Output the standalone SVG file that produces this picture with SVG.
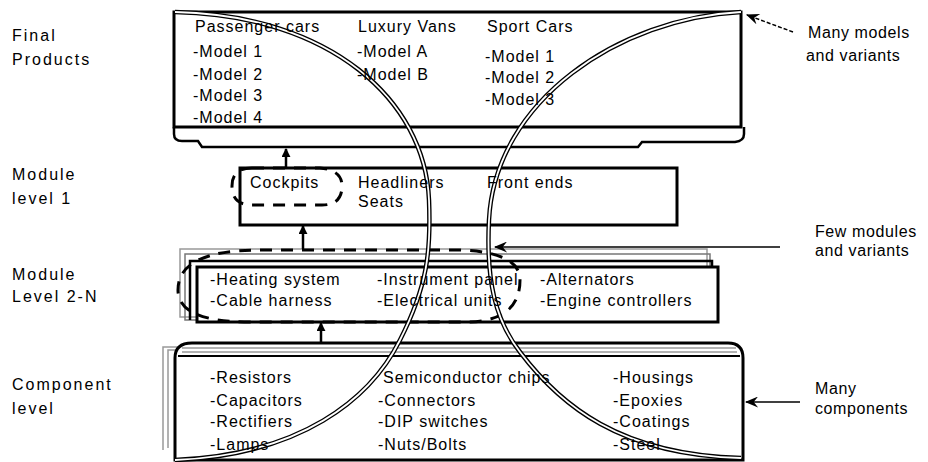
<svg xmlns="http://www.w3.org/2000/svg" width="928" height="462" viewBox="0 0 928 462">
<defs>
<marker id="ah" viewBox="0 0 10 10" refX="9" refY="5" markerWidth="9" markerHeight="9" markerUnits="userSpaceOnUse" orient="auto">
<path d="M0,0 L10,5 L0,10 Z" fill="#000"/>
</marker>
<marker id="ah2" viewBox="0 0 12 10" refX="11" refY="5" markerWidth="14" markerHeight="11" markerUnits="userSpaceOnUse" orient="auto">
<path d="M0,0 L12,5 L0,10 L4,5 Z" fill="#000"/>
</marker>
<style>
text{font-family:"Liberation Sans",Arial,sans-serif;font-size:16px;fill:#000;letter-spacing:1px}
.lab{letter-spacing:2px}
.ann{letter-spacing:0.6px}
.box{fill:#fff;stroke:#000;stroke-width:3}
.line{fill:none;stroke:#000;stroke-width:2.5}
.grey{fill:none;stroke:#999;stroke-width:1.5}
.dash{fill:none;stroke:#000;stroke-width:3;stroke-dasharray:12 9}
.tubeA{fill:none;stroke:#000;stroke-width:4.5}
.tubeB{fill:none;stroke:#fff;stroke-width:1.8}
.arr{fill:none;stroke:#000;stroke-width:2.5}
.thin{fill:none;stroke:#000;stroke-width:1.5}
</style>
</defs>
<rect width="928" height="462" fill="#fff"/>

<g id="final-products">
<rect class="box" x="174" y="12" width="567" height="115"/>
<path class="line" d="M174,127 V134 Q174,141 182,141 H198 L202,147 H638 L642,142 H735 Q744,141 744,134 V127"/>
</g>

<g id="module-level-1">
<rect class="box" x="240" y="168" width="437" height="57"/>
</g>

<g id="module-level-2">
<rect class="grey" x="180" y="249" width="527" height="68"/>
<rect class="grey" x="185" y="254" width="525" height="66" style="stroke:#777"/>
<path class="line" d="M190,320 V261 H712 V266"/>
<rect class="box" x="197" y="267" width="521" height="55"/>
</g>

<g id="component-level">
<path class="grey" d="M163,450 V347 H737"/>
<path class="grey" d="M168,448 V350 H737"/>
<path d="M175,460 V358 Q175,343 192,343 H728 Q743,343 743,358 V460 Z" fill="#fff" stroke="#000" stroke-width="3"/>
<path class="grey" d="M182,348 H736"/>
<path class="grey" d="M182,352 H737"/>
<path class="thin" d="M178,356 H740" style="stroke-width:2"/>
</g>

<g id="connectors">
<path class="dash" d="M252,168 H320 Q342,170 342,186 Q342,205 322,205 H252 Q232,205 232,186 Q232,168 252,168 Z"/>
<path class="dash" d="M260,250 H460 Q520,252 520,280 Q520,320 470,322 H250 Q178,322 178,290 Q178,250 260,250 Z"/>
<line class="arr" x1="286" y1="168" x2="286" y2="149" marker-end="url(#ah)"/>
<line class="arr" x1="303" y1="249" x2="303" y2="226" marker-end="url(#ah)"/>
<line class="arr" x1="321" y1="342" x2="321" y2="323" marker-end="url(#ah)"/>
<path class="tubeA" d="M175,12 C330,15 425,100 429,200 C431,250 428,285 400,340 C370,400 300,455 175,460"/>
<path class="tubeB" d="M175,12 C330,15 425,100 429,200 C431,250 428,285 400,340 C370,400 300,455 175,460"/>
<path class="tubeA" d="M741,12 C620,18 495,100 489,220 C486,280 495,320 520,352 C560,405 620,455 741,458"/>
<path class="tubeB" d="M741,12 C620,18 495,100 489,220 C486,280 495,320 520,352 C560,405 620,455 741,458"/>
<line class="thin" x1="793" y1="32" x2="747" y2="15" stroke-dasharray="4 2" marker-end="url(#ah2)"/>
<line class="thin" x1="780" y1="247" x2="495" y2="247" marker-end="url(#ah2)"/>
<line class="thin" x1="800" y1="402" x2="746" y2="402" marker-end="url(#ah2)"/>
</g>

<g id="final-products-text">
<text x="195" y="32">Passenger cars</text>
<text x="193" y="57">-Model 1</text>
<text x="193" y="80">-Model 2</text>
<text x="193" y="101">-Model 3</text>
<text x="193" y="123">-Model 4</text>
<text x="358" y="32">Luxury Vans</text>
<text x="357" y="57">-Model A</text>
<text x="357" y="80">-Model B</text>
<text x="487" y="32">Sport Cars</text>
<text x="485" y="62">-Model 1</text>
<text x="485" y="83">-Model 2</text>
<text x="485" y="105">-Model 3</text>
</g>

<g id="module-level-1-text">
<text x="250" y="188">Cockpits</text>
<text x="358" y="188">Headliners</text>
<text x="358" y="207">Seats</text>
<text x="487" y="188">Front ends</text>
</g>

<g id="module-level-2-text">
<text x="210" y="285">-Heating system</text>
<text x="210" y="306">-Cable harness</text>
<text x="377" y="285">-Instrument panel</text>
<text x="377" y="306">-Electrical units</text>
<text x="540" y="285">-Alternators</text>
<text x="540" y="306">-Engine controllers</text>
</g>

<g id="component-level-text">
<text x="210" y="383">-Resistors</text>
<text x="210" y="406">-Capacitors</text>
<text x="210" y="427">-Rectifiers</text>
<text x="210" y="450">-Lamps</text>
<text x="383" y="383">Semiconductor chips</text>
<text x="378" y="406">-Connectors</text>
<text x="378" y="427">-DIP switches</text>
<text x="378" y="450">-Nuts/Bolts</text>
<text x="613" y="383">-Housings</text>
<text x="613" y="406">-Epoxies</text>
<text x="613" y="427">-Coatings</text>
<text x="613" y="450">-Steel</text>
</g>

<g id="level-labels">
<text class="lab" x="12" y="41">Final</text>
<text class="lab" x="12" y="65">Products</text>
<text class="lab" x="12" y="180">Module</text>
<text class="lab" x="12" y="204">level 1</text>
<text class="lab" x="12" y="280">Module</text>
<text class="lab" x="12" y="302">Level 2-N</text>
<text class="lab" x="12" y="390">Component</text>
<text class="lab" x="12" y="414">level</text>
</g>

<g id="annotations">
<text class="ann" x="808" y="38">Many models</text>
<text class="ann" x="806" y="61">and variants</text>
<text class="ann" x="815" y="237">Few modules</text>
<text class="ann" x="815" y="256">and variants</text>
<text class="ann" x="815" y="394">Many</text>
<text class="ann" x="815" y="414">components</text>
</g>
</svg>
